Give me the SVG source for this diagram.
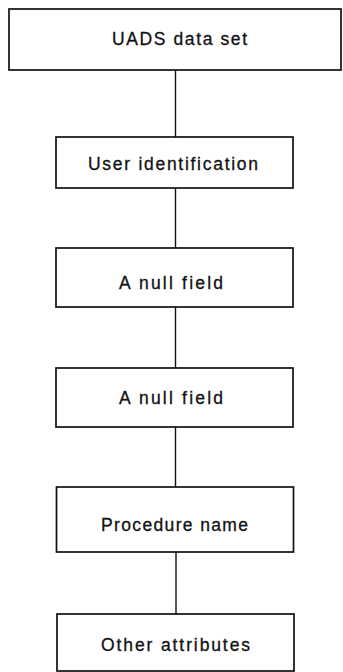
<svg xmlns="http://www.w3.org/2000/svg" width="343" height="672" viewBox="0 0 343 672">
<style>
rect.box{fill:#fff;stroke:#111;stroke-width:1.7}
text{font-family:"Liberation Sans",Arial,sans-serif;font-size:17.5px;fill:#111;stroke:#111;stroke-width:0.3}
.conn line{stroke:#111;stroke-width:1.4}
</style>
<rect width="343" height="672" fill="#fff"/>
<g id="connectors" class="conn">
<line x1="175.5" y1="70" x2="175.5" y2="137"/>
<line x1="175.5" y1="188" x2="175.5" y2="248"/>
<line x1="175.5" y1="307" x2="175.5" y2="368"/>
<line x1="175.5" y1="427" x2="175.5" y2="487"/>
<line x1="176" y1="552" x2="176" y2="614"/>
</g>
<g id="uads">
<rect class="box" x="9" y="9" width="332" height="61"/>
<text x="112" y="45" textLength="135" lengthAdjust="spacing">UADS data set</text>
</g>
<g id="userid">
<rect class="box" x="56" y="137" width="237" height="51"/>
<text x="88" y="170" textLength="170" lengthAdjust="spacing">User identification</text>
</g>
<g id="null1">
<rect class="box" x="56" y="248" width="237" height="59"/>
<text x="119" y="289" textLength="104" lengthAdjust="spacing">A null field</text>
</g>
<g id="null2">
<rect class="box" x="56" y="368" width="237" height="59"/>
<text x="119" y="404" textLength="104" lengthAdjust="spacing">A null field</text>
</g>
<g id="procname">
<rect class="box" x="56.5" y="487" width="237" height="65"/>
<text x="101" y="530.5" textLength="147" lengthAdjust="spacing">Procedure name</text>
</g>
<g id="other">
<rect class="box" x="57" y="614" width="237" height="57"/>
<text x="101" y="650.5" textLength="149" lengthAdjust="spacing">Other attributes</text>
</g>
</svg>
